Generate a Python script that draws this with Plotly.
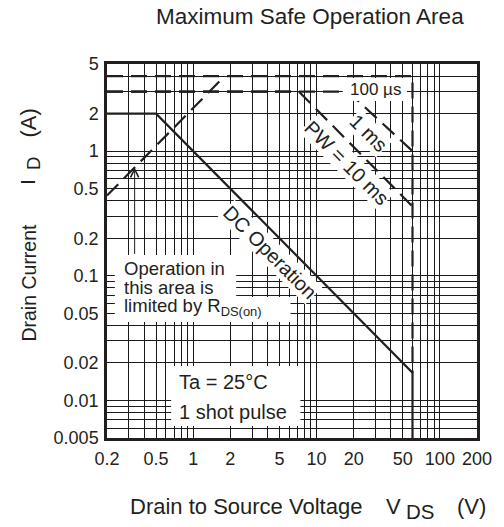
import math
import plotly.graph_objects as go

# ---------------- data ----------------
dc_v = [0.2, 0.5, 60, 60]
dc_i = [2.0, 2.0, 0.0167, 0.005]

rds_v = [0.2, 1.8]
rds_i = [0.44, 4.0]

pw100us_v = [0.2, 60, 60]
pw100us_i = [4.0, 4.0, 0.0167]

pw1ms_v = [0.2, 18, 60]
pw1ms_i = [3.0, 3.0, 1.0]

pw10ms_v = [0.2, 7.2, 60]
pw10ms_i = [3.0, 3.0, 0.36]

x_tick_labels = ["0.2", "0.5", "1", "2", "5", "10", "20", "50", "100", "200"]
y_tick_labels = ["0.005", "0.01", "0.02", "0.05", "0.1", "0.2", "0.5", "1", "2", "5"]

arrow_v = 0.335
arrow_i = 0.74

# ---------------- grid (log decades 1..9) ----------------
def grid(lo, hi):
    vals = []
    for e in range(-4, 4):
        for m in range(1, 10):
            v = round(m * 10 ** e, 8)
            if lo - 1e-12 <= v <= hi + 1e-12:
                vals.append(v)
    return vals

x_grid = grid(0.2, 200)
y_grid = grid(0.005, 5)
x_text = [format(v, "g") if format(v, "g") in x_tick_labels else "" for v in x_grid]
y_text = [format(v, "g") if format(v, "g") in y_tick_labels else "" for v in y_grid]

FONT = "Liberation Sans, Arial, Helvetica, sans-serif"
INK = "#231f20"
DASH = "16px,8px"

fig = go.Figure()
fig.add_trace(go.Scatter(x=dc_v, y=dc_i, mode="lines",
                         line=dict(color=INK, width=2.2), hoverinfo="skip"))
for xs, ys in [(rds_v, rds_i), (pw100us_v, pw100us_i), (pw1ms_v, pw1ms_i), (pw10ms_v, pw10ms_i)]:
    fig.add_trace(go.Scatter(x=xs, y=ys, mode="lines",
                             line=dict(color=INK, width=2.2, dash=DASH), hoverinfo="skip"))

# plot-area geometry in pixels (for label placement)
L, R, T, B = 107, 482, 64, 438
W, H = 504, 527
def px(x):
    return (x - L) / (R - L)
def py(y):
    return (B - y) / (B - T)

ann = []
def label(text, x, y, size, angle=0, xanchor="center", bg="rgba(0,0,0,0)", pad=1):
    ann.append(dict(text=text, x=px(x), y=py(y), xref="paper", yref="paper",
                    showarrow=False, textangle=angle, xanchor=xanchor, yanchor="middle",
                    font=dict(family=FONT, size=size, color=INK),
                    bgcolor=bg, borderpad=pad, borderwidth=0))

# white panels behind the notes (they hide the grid; no curve passes under them)
shapes = []
def panel(x0, x1, y0, y1):
    shapes.append(dict(type="rect", xref="paper", yref="paper",
                       x0=px(x0), x1=px(x1), y0=py(y1), y1=py(y0),
                       fillcolor="white", line=dict(width=0), layer="above"))

panel(115, 238, 255, 297)
panel(115, 293, 297, 322)
panel(172, 303, 366, 426)
panel(346, 411, 78, 101)

label("100 µs", 379, 89, 17)
label("1 ms", 372, 133, 20, angle=45, bg="white")
label("PW = 10 ms", 350, 163, 20, angle=45, bg="white")
label("DC Operation", 272, 252, 20, angle=45, bg="white")

op_lines = ["Operation in", "this area is", "limited by R<sub>DS(on)</sub>"]
op_y = [268, 287.5, 307]
for t, yy in zip(op_lines, op_y):
    label(t, 123, yy, 18.5, xanchor="left")

ta_lines = ["Ta = 25°C", "1 shot pulse"]
ta_y = [382, 412]
for t, yy in zip(ta_lines, ta_y):
    label(t, 179, yy, 20, xanchor="left")

# arrow pointing at the R_DS(on) limit line
ann.append(dict(text="", x=math.log10(arrow_v), y=math.log10(arrow_i), xref="x", yref="y",
                showarrow=True, ax=0, ay=88, axref="pixel", ayref="pixel",
                arrowhead=5, arrowsize=1.6, arrowwidth=1, arrowcolor=INK, standoff=0))

# title and axis titles
label("Maximum Safe Operation Area", 313, 17, 22.5)
label("Drain to Source Voltage", 247.5, 506, 22)
label("V", 397.5, 506, 22)
label("DS", 424, 512, 20.5)
label("(V)", 476.5, 506, 22)
label("Drain Current", 27, 282.5, 19.5, angle=-90)
label("I", 26, 182, 21, angle=-90)
label("D", 32, 164, 18.5, angle=-90)
label("(A)", 27, 123.5, 22, angle=-90)

fig.update_layout(
    width=W, height=H,
    margin=dict(l=L, r=W - R, t=T, b=H - B, pad=0),
    paper_bgcolor="white", plot_bgcolor="white",
    showlegend=False,
    annotations=ann,
    shapes=shapes,
    font=dict(family=FONT, color=INK),
)
fig.update_xaxes(type="log", range=[-0.69897, 2.30103], tickmode="array",
                 tickvals=x_grid, ticktext=x_text, ticks="", ticklen=0, showgrid=True,
                 gridcolor="#1a1a1a", gridwidth=1, showline=True, mirror=True,
                 linecolor=INK, linewidth=2.5, zeroline=False,
                 tickfont=dict(family=FONT, size=18, color=INK), ticklabelstandoff=3)
fig.update_yaxes(type="log", range=[-2.30103, 0.69897], tickmode="array",
                 tickvals=y_grid, ticktext=y_text, ticks="", ticklen=0, showgrid=True,
                 gridcolor="#1a1a1a", gridwidth=1, showline=True, mirror=True,
                 linecolor=INK, linewidth=2.5, zeroline=False,
                 tickfont=dict(family=FONT, size=18, color=INK), ticklabelstandoff=2)

fig.write_html("out.html", config={"displayModeBar": False},
               post_script="document.body.style.margin='0';document.body.style.overflow='hidden';")
